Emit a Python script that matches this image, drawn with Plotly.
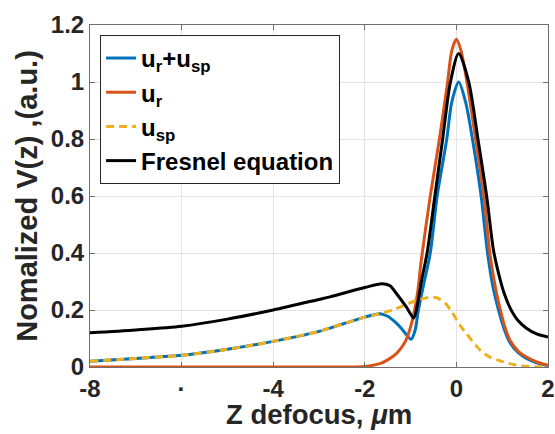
import plotly.graph_objects as go

# ---- data ----
x_sum = [-8, -7, -6, -5, -4, -3, -2.5, -2, -1.67, -1.5, -1.34, -1.2, -1.1, -0.99, -0.9, -0.83, -0.7,
         -0.57, -0.42, -0.21, -0.1, 0.05, 0.2, 0.35, 0.54, 0.68, 0.8, 0.92, 1.05, 1.17, 1.35, 1.53, 1.75, 2]
y_sum = [0.02, 0.03, 0.041, 0.062, 0.09, 0.125, 0.15, 0.175, 0.187, 0.178, 0.158, 0.135, 0.115, 0.097,
         0.13, 0.2, 0.3, 0.4, 0.6, 0.8, 0.93, 1.0, 0.93, 0.8, 0.6, 0.4, 0.28, 0.2, 0.13, 0.085, 0.05,
         0.03, 0.015, 0.005]

x_ur = [-8, -6, -4, -2.5, -2, -1.67, -1.5, -1.31, -1.12, -0.98, -0.85, -0.77, -0.58, -0.37, -0.2, -0.1,
        0, 0.1, 0.23, 0.42, 0.6, 0.73, 0.85, 0.96, 1.06, 1.17, 1.35, 1.53, 1.75, 2]
y_ur = [0, 0, 0, 0, 0.002, 0.012, 0.025, 0.047, 0.088, 0.152, 0.258, 0.37, 0.59, 0.8, 0.99, 1.11,
        1.15, 1.11, 1.0, 0.8, 0.6, 0.4, 0.28, 0.2, 0.14, 0.094, 0.055, 0.035, 0.018, 0.006]

x_usp = [-8, -7, -6, -5, -4, -3, -2.5, -2, -1.67, -1.31, -0.87, -0.6, -0.43, -0.25, -0.1, 0.08,
         0.22, 0.52, 0.73, 1.02, 1.3, 1.6, 2]
y_usp = [0.02, 0.03, 0.041, 0.062, 0.09, 0.125, 0.15, 0.175, 0.187, 0.205, 0.234, 0.244, 0.243,
         0.225, 0.193, 0.146, 0.117, 0.059, 0.035, 0.018, 0.007, 0.002, 0.0]

x_fres = [-8, -7, -6, -5, -4, -3, -2.76, -2, -1.63, -1.45, -1.31, -1.09, -0.93, -0.85, -0.76, -0.64,
          -0.47, -0.3, -0.13, 0.05, 0.27, 0.47, 0.66, 0.81, 0.95, 1.05, 1.18, 1.35, 1.53, 1.75, 2]
y_fres = [0.12, 0.13, 0.143, 0.168, 0.2, 0.237, 0.246, 0.279, 0.292, 0.285, 0.258, 0.21, 0.172, 0.22,
          0.304, 0.4, 0.6, 0.8, 1.0, 1.10, 1.0, 0.8, 0.6, 0.41, 0.31, 0.255, 0.205, 0.162, 0.136, 0.116, 0.105]

series_names = ["<b>u<sub>r</sub>+u<sub>sp</sub></b>", "<b>u<sub>r</sub></b>",
                "<b>u<sub>sp</sub></b>", "<b>Fresnel equation</b>"]

x_tickvals = [-8, -6, -4, -2, 0, 2]
x_ticktext = ["-8", "·", "-4", "-2", "0", "2"]
y_tickvals = [0, 0.2, 0.4, 0.6, 0.8, 1, 1.2]
y_ticktext = ["0", "0.2", "0.4", "0.6", "0.8", "1", "1.2"]

x_title = "<b>Z defocus, <i>μ</i>m</b>"
y_title = "<b>Nomalized V(z) ,(a.u.)</b>"

FONT = "Liberation Sans, Arial, sans-serif"
SMOOTH = 0.8

fig = go.Figure()
fig.add_trace(go.Scatter(x=x_sum, y=y_sum, mode="lines", name=series_names[0],
                         line=dict(color="#0072BD", width=3, shape="spline", smoothing=SMOOTH)))
fig.add_trace(go.Scatter(x=x_ur, y=y_ur, mode="lines", name=series_names[1],
                         line=dict(color="#D95319", width=3, shape="spline", smoothing=SMOOTH)))
fig.add_trace(go.Scatter(x=x_usp, y=y_usp, mode="lines", name=series_names[2],
                         line=dict(color="#EDB120", width=3, dash="8px,5px", shape="spline", smoothing=SMOOTH)))
fig.add_trace(go.Scatter(x=x_fres, y=y_fres, mode="lines", name=series_names[3],
                         line=dict(color="#000000", width=3, shape="spline", smoothing=SMOOTH)))

axis_common = dict(showline=True, linecolor="#6e6e6e", linewidth=1, mirror="ticks",
                   ticks="inside", ticklen=5, tickcolor="#6e6e6e", automargin=False,
                   showgrid=True, gridcolor="#e3e3e3", gridwidth=1, zeroline=False,
                   tickfont=dict(family=FONT, size=24, color="#262626", weight="bold"))

fig.update_layout(
    width=555, height=434,
    margin=dict(l=90, r=7, t=25, b=67),
    paper_bgcolor="white", plot_bgcolor="white",
    font=dict(family=FONT, color="#262626"),
    xaxis=dict(range=[-8, 2], tickvals=x_tickvals, ticktext=x_ticktext, ticklabelstandoff=0,
               **axis_common),
    yaxis=dict(range=[0, 1.2], tickvals=y_tickvals, ticktext=y_ticktext,
               title=dict(text=y_title, font=dict(family=FONT, size=29, color="#262626"),
                          standoff=4),
               **axis_common),
    legend=dict(x=0.022, y=0.971, xanchor="left", yanchor="top",
                bgcolor="white", bordercolor="#262626", borderwidth=1,
                font=dict(family=FONT, size=24, color="#000000"),
                itemwidth=30, tracegroupgap=0),
    showlegend=True,
    annotations=[dict(text=x_title, xref="paper", yref="paper", x=0.5, y=-0.092,
                      xanchor="center", yanchor="top", showarrow=False, borderpad=0,
                      font=dict(family=FONT, size=27.5, color="#262626"))],
)

fig.write_html("out.html")
